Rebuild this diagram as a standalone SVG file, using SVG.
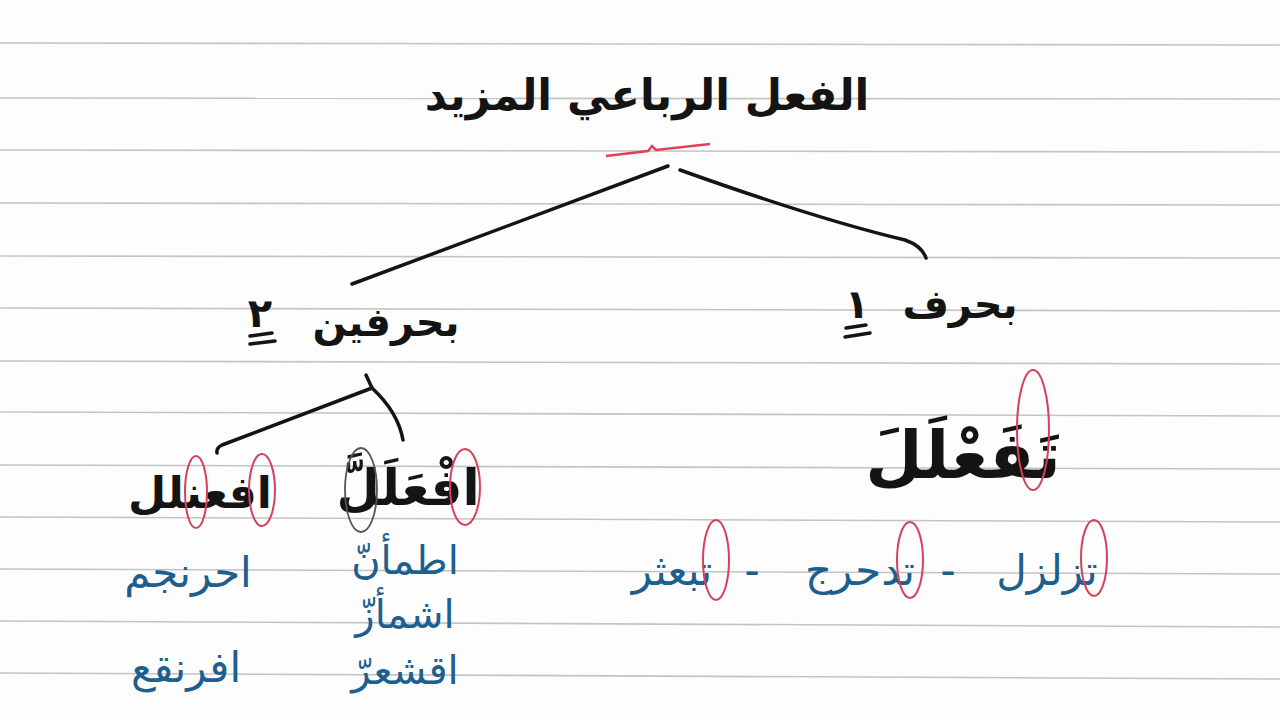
<svg xmlns="http://www.w3.org/2000/svg" width="1280" height="720" viewBox="0 0 1280 720">
<style>
.rule{stroke:#c4c4c4;stroke-width:1.6}
.blk{font-family:"DejaVu Sans",sans-serif;fill:#141414;font-weight:bold;text-anchor:middle;direction:rtl}
.blu{font-family:"DejaVu Sans",sans-serif;fill:#1d5f8f;text-anchor:middle;direction:rtl}
.con{stroke:#141414;stroke-width:3.5;fill:none;stroke-linecap:round;stroke-linejoin:round}
.red{stroke:#d8405a;stroke-width:2;fill:none}
.dark{stroke:#555;stroke-width:1.8;fill:none}
.ul{stroke:#141414;stroke-width:3.5;stroke-linecap:round}
</style>
<rect width="1280" height="720" fill="#fdfdfd"/>
<g id="ruled-lines">
<line class="rule" x1="0" y1="43" x2="1280" y2="45"/>
<line class="rule" x1="0" y1="98" x2="1280" y2="99"/>
<line class="rule" x1="0" y1="150" x2="1280" y2="152"/>
<line class="rule" x1="0" y1="203" x2="1280" y2="205"/>
<line class="rule" x1="0" y1="256" x2="1280" y2="258"/>
<line class="rule" x1="0" y1="308" x2="1280" y2="311"/>
<line class="rule" x1="0" y1="361" x2="1280" y2="364"/>
<line class="rule" x1="0" y1="412" x2="1280" y2="416"/>
<line class="rule" x1="0" y1="465" x2="1280" y2="469"/>
<line class="rule" x1="0" y1="517" x2="1280" y2="522"/>
<line class="rule" x1="0" y1="569" x2="1280" y2="574"/>
<line class="rule" x1="0" y1="621" x2="1280" y2="627"/>
<line class="rule" x1="0" y1="673" x2="1280" y2="679"/>
</g>
<g id="connectors">
<path class="con" d="M668 166 L352 284"/>
<path class="con" d="M680 170 Q820 220 905 240 Q922 246 926 258"/>
<path class="con" d="M366 375 L372 388"/>
<path class="con" d="M372 388 L222 445 Q216 448 217 453"/>
<path class="con" d="M372 388 Q398 412 403 440"/>
</g>
<g id="root">
<text class="blk" x="647" y="110" font-size="43">الفعل الرباعي المزيد</text>
<path d="M606 156 L648 151 L652 146 L656 150 L710 144" stroke="#e0405a" stroke-width="2.5" fill="none"/>
</g>
<g id="node-one-letter">
<text class="blk" x="960" y="318" font-size="40">بحرف</text>
<text class="blk" x="857" y="318" font-size="40">١</text>
<line class="ul" x1="846" y1="328" x2="866" y2="325"/>
<line class="ul" x1="845" y1="337" x2="870" y2="333"/>
</g>
<g id="node-two-letters">
<text class="blk" x="386" y="336" font-size="40">بحرفين</text>
<text class="blk" x="260" y="327" font-size="40">٢</text>
<line class="ul" x1="250" y1="336" x2="272" y2="333"/>
<line class="ul" x1="250" y1="344" x2="275" y2="341"/>
</g>
<g id="node-tafalala">
<text class="blk" x="963" y="478" font-size="66">تَفَعْلَلَ</text>
<ellipse class="red" cx="1033" cy="430" rx="16" ry="60"/>
<text class="blu" x="1047" y="585" font-size="42">تزلزل</text>
<text class="blu" x="948" y="585" font-size="42">-</text>
<text class="blu" x="860" y="585" font-size="42">تدحرج</text>
<text class="blu" x="752" y="585" font-size="42">-</text>
<text class="blu" x="672" y="585" font-size="42">تبعثر</text>
<ellipse class="red" cx="1094" cy="558" rx="13" ry="38"/>
<ellipse class="red" cx="910" cy="560" rx="13" ry="38"/>
<ellipse class="red" cx="716" cy="560" rx="13" ry="40"/>
</g>
<g id="node-ifalalla">
<text class="blk" x="408" y="505" font-size="50">افْعَلَلَّ</text>
<ellipse class="red" cx="465" cy="487" rx="15" ry="38"/>
<ellipse class="dark" cx="361" cy="490" rx="16" ry="42"/>
<text class="blu" x="405" y="574" font-size="40">اطمأنّ</text>
<text class="blu" x="405" y="628" font-size="40">اشمأزّ</text>
<text class="blu" x="405" y="684" font-size="40">اقشعرّ</text>
</g>
<g id="node-ifanlala">
<text class="blk" x="200" y="508" font-size="44">افعنلل</text>
<ellipse class="red" cx="262" cy="490" rx="13" ry="36"/>
<ellipse class="red" cx="196" cy="492" rx="11" ry="36"/>
<text class="blu" x="188" y="587" font-size="42">احرنجم</text>
<text class="blu" x="186" y="682" font-size="42">افرنقع</text>
</g>
</svg>
